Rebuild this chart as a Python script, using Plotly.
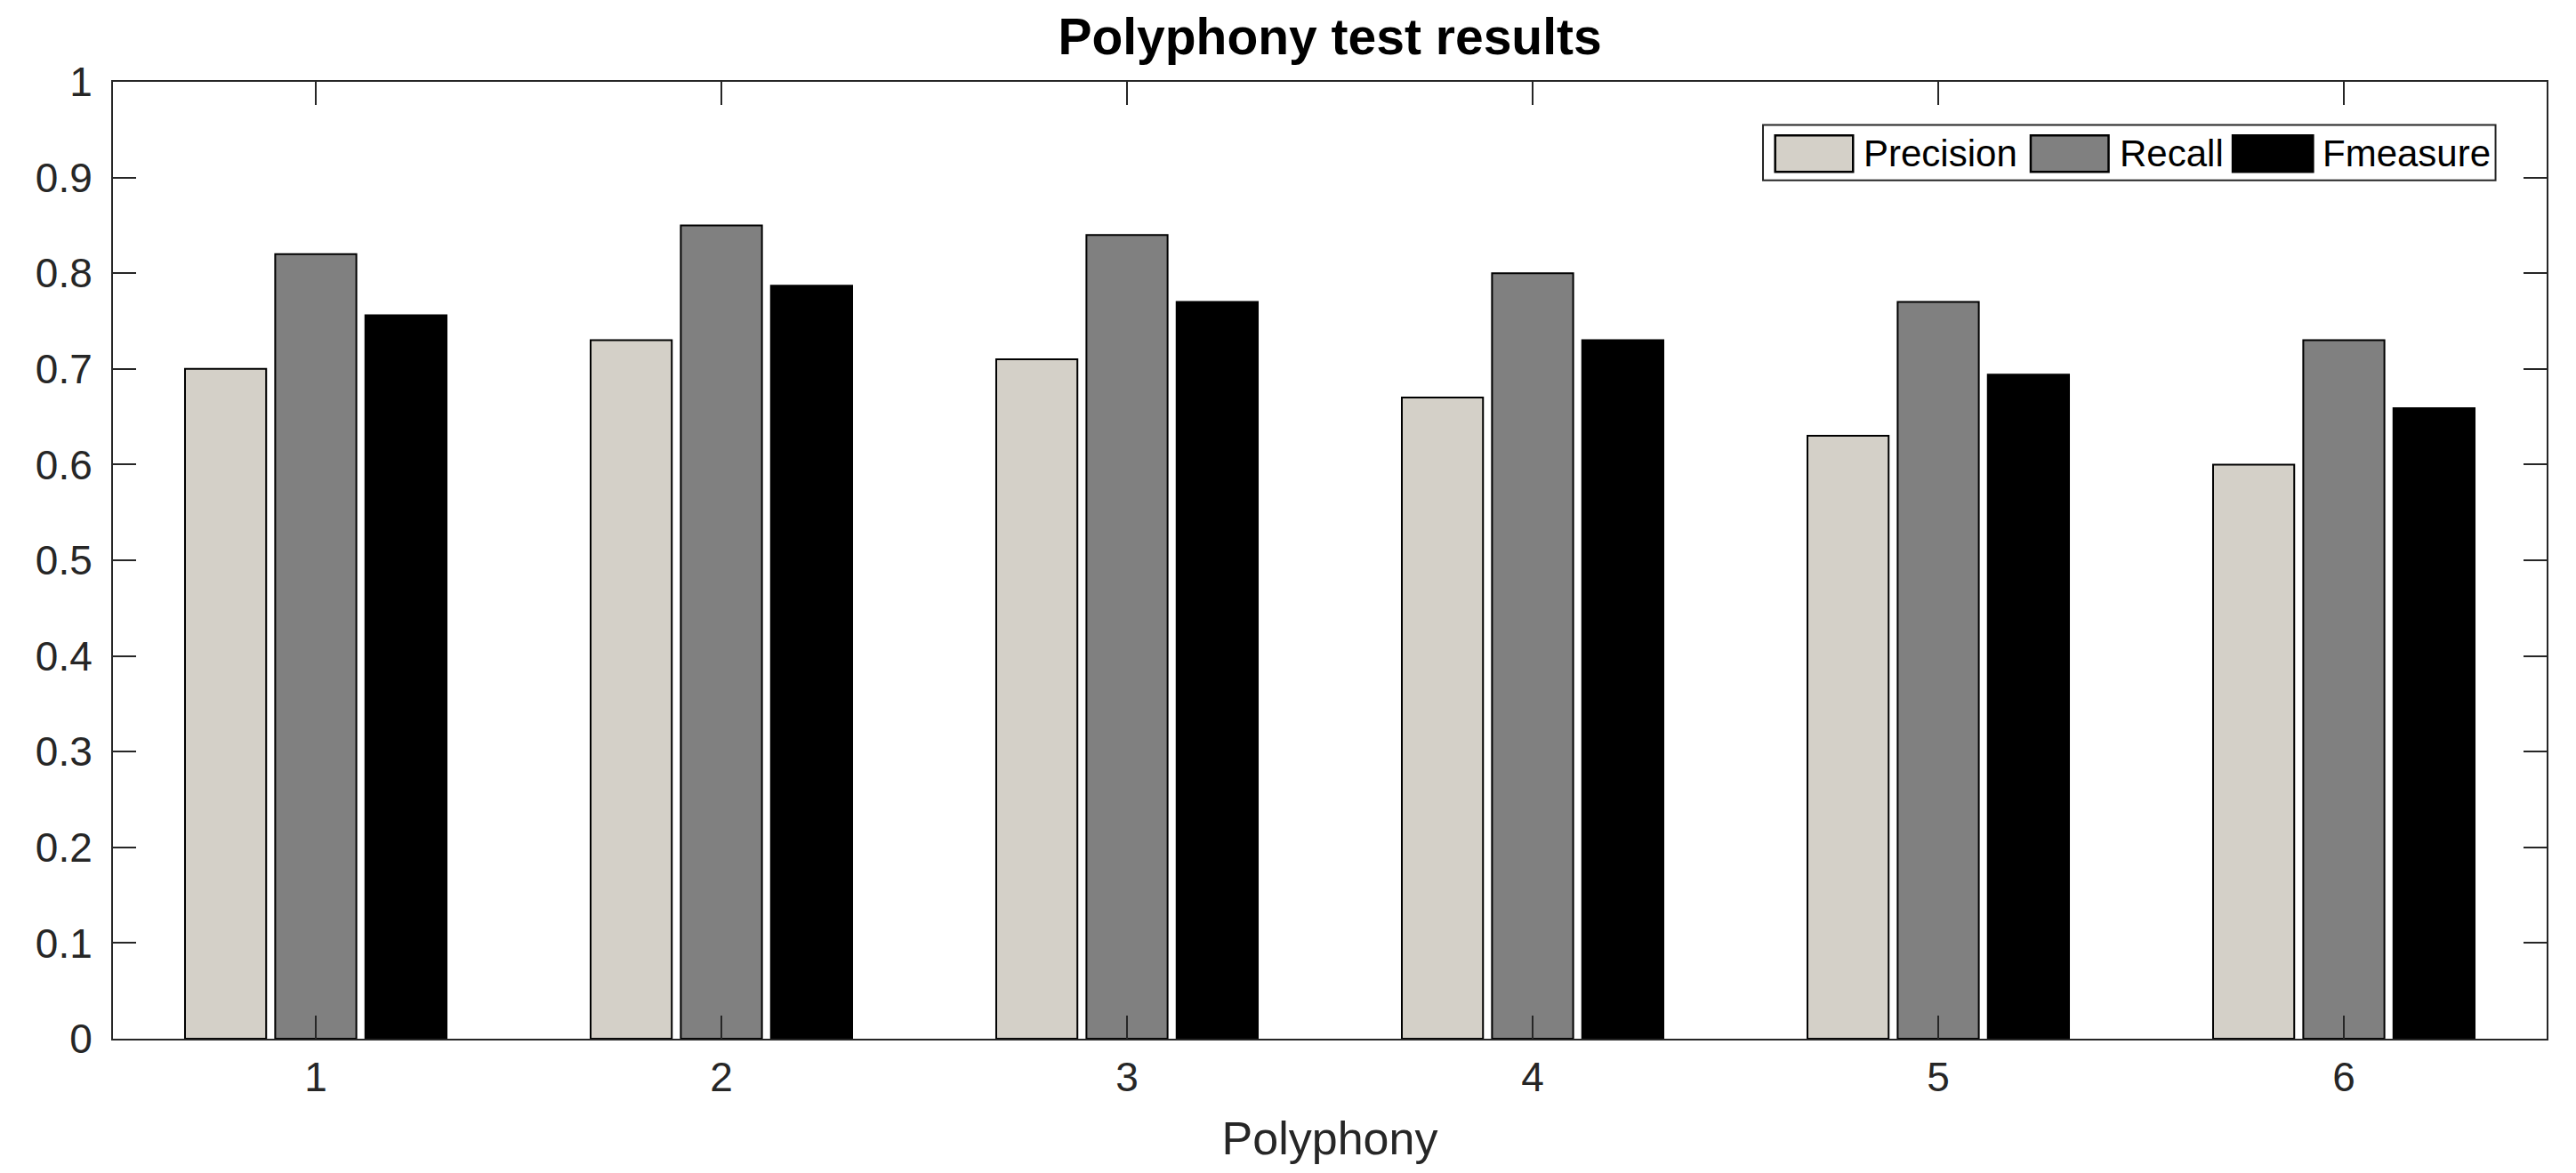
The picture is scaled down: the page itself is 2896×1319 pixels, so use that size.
import plotly.graph_objects as go

polyphony = [1, 2, 3, 4, 5, 6]
precision = [0.70, 0.73, 0.71, 0.67, 0.63, 0.60]
recall = [0.82, 0.85, 0.84, 0.80, 0.77, 0.73]
fmeasure = [0.756, 0.787, 0.770, 0.730, 0.694, 0.659]
series_names = ["Precision", "Recall", "Fmeasure"]
series_colors = ["#d4d0c8", "#808080", "#000000"]
y_ticks = [0, 0.1, 0.2, 0.3, 0.4, 0.5, 0.6, 0.7, 0.8, 0.9, 1]

FONT = "Liberation Sans, Arial, Helvetica, sans-serif"
AX = "#262626"

# page has an 8px body margin; figure sized to fit the window
W, H = 2888, 1311

fig = go.Figure()
for name, vals, col in zip(series_names, [precision, recall, fmeasure], series_colors):
    fig.add_trace(go.Bar(
        x=polyphony, y=vals, name=name, showlegend=False,
        marker=dict(color=col, line=dict(color="#000000", width=2)),
    ))

# hand-drawn legend (MATLAB style, large swatches), in paper coordinates
legend_box = dict(x0=0.678, x1=0.979, y0=0.897, y1=0.955)
swatch_x = [(0.683, 0.715), (0.788, 0.820), (0.871, 0.904)]
text_x = [0.7186, 0.824, 0.907]
sw_y0, sw_y1, txt_y = 0.906, 0.944, 0.925

shapes = [dict(type="rect", xref="paper", yref="paper", layer="above",
               line=dict(color=AX, width=2), fillcolor="white", **legend_box)]
annotations = []
for name, col, (sx0, sx1), tx in zip(series_names, series_colors, swatch_x, text_x):
    shapes.append(dict(type="rect", xref="paper", yref="paper", layer="above",
                       x0=sx0, x1=sx1, y0=sw_y0, y1=sw_y1,
                       fillcolor=col, line=dict(color="#000000", width=2.5)))
    annotations.append(dict(text=name, xref="paper", yref="paper", x=tx, y=txt_y,
                            xanchor="left", yanchor="middle", showarrow=False,
                            font=dict(family=FONT, size=42, color="#000000")))

fig.update_layout(
    width=W, height=H,
    paper_bgcolor="white", plot_bgcolor="white",
    margin=dict(l=119, r=33, t=84, b=151),
    barmode="group", bargap=0.333, bargroupgap=0.1,
    font=dict(family=FONT, color=AX, size=46),
    title=dict(text="<b>Polyphony test results</b>", x=0.5149, xanchor="center",
               y=1 - 33 / H, yanchor="middle", yref="container",
               font=dict(family=FONT, size=57, color="#000000")),
    shapes=shapes,
    annotations=annotations,
    showlegend=False,
)
fig.update_xaxes(
    range=[0.5, 6.5], tickmode="array", tickvals=polyphony,
    ticktext=[str(v) for v in polyphony],
    ticks="inside", ticklen=26, tickwidth=2, tickcolor=AX,
    showline=True, linecolor=AX, linewidth=2, mirror="ticks",
    showgrid=False, zeroline=False,
    ticklabelstandoff=2,
    title=dict(text="Polyphony", font=dict(family=FONT, size=52, color=AX), standoff=25),
)
fig.update_yaxes(
    range=[0, 1], tickmode="array", tickvals=y_ticks,
    ticktext=[("%g" % v) for v in y_ticks],
    ticks="inside", ticklen=26, tickwidth=2, tickcolor=AX,
    showline=True, linecolor=AX, linewidth=2, mirror="ticks",
    showgrid=False, zeroline=False,
    ticklabelstandoff=12,
)

fig.write_html("out.html")
